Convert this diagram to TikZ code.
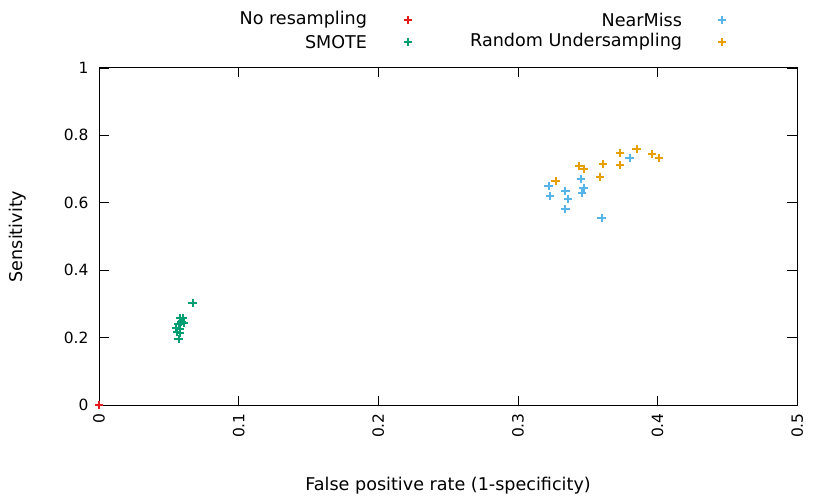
\documentclass[tikz,border=0pt]{standalone}
\usepackage{fontspec}
\setmainfont{DejaVu Sans}
\definecolor{nores}{HTML}{E41A1C}
\definecolor{smote}{HTML}{009E73}
\definecolor{nearmiss}{HTML}{56B4E9}
\definecolor{randu}{HTML}{E69F00}
\begin{document}
\begin{tikzpicture}[x=0.025cm,y=-0.025cm,font=\fontsize{12.5}{14}\selectfont]
		\tikzstyle{pt}=[line width=1.4pt]
		\tikzstyle{tick}=[font=\fontsize{11}{13}\selectfont]
		\useasboundingbox (0,0) rectangle (830,498);

		% axes frame, data mapped to pixels
		\begin{scope}[shift={(99,405)},x=34.9cm,y=8.425cm]
			\newcommand{\mk}[3]{\draw[pt,#1] (#2-0.003,#3) -- (#2+0.003,#3) (#2,#3-0.0125) -- (#2,#3+0.0125);}
			\node[coordinate] (orig) at (0,0) {};
			\node[coordinate] (topright) at (0.5,1) {};
			\draw[line width=0.6pt] (orig) rectangle (topright);
			\foreach \x in {0,0.1,0.2,0.3,0.4,0.5} {
				\draw (\x,0) -- (\x,0.027) (\x,1) -- (\x,0.973);
				\node[tick,rotate=90,anchor=east] at (\x,-0.01) {\x};
			}
			\foreach \y in {0,0.2,0.4,0.6,0.8,1} {
				\draw (0,\y) -- (0.007,\y) (0.5,\y) -- (0.493,\y);
				\node[tick,anchor=east] at (-0.004,\y) {\y};
			}
			\node[rotate=90] (ylab) at (-0.058,0.5) {Sensitivity};
			\node (xlab) at (0.25,-0.24) {False positive rate (1-specificity)};

			% data
			\mk{nores}{0}{0}
			\foreach \a/\b in {0.058/0.258,0.060/0.258,0.057/0.240,0.059/0.246,0.055/0.228,0.058/0.226,0.061/0.243,0.056/0.217,0.058/0.214,0.057/0.196,0.067/0.303}
				{\mk{smote}{\a}{\b}}
			\foreach \a/\b in {0.322/0.650,0.323/0.620,0.334/0.635,0.336/0.611,0.334/0.582,0.345/0.671,0.347/0.644,0.346/0.629,0.360/0.555,0.380/0.733}
				{\mk{nearmiss}{\a}{\b}}
			\foreach \a/\b in {0.327/0.665,0.344/0.709,0.347/0.700,0.361/0.715,0.359/0.677,0.373/0.748,0.373/0.712,0.385/0.760,0.396/0.745,0.401/0.733}
				{\mk{randu}{\a}{\b}}
		\end{scope}

		% legend
		\node[anchor=east] (l1) at (372,20) {No resampling};
		\node[anchor=east] (l2) at (372,42) {SMOTE};
		\node[anchor=east] (l3) at (687,20) {NearMiss};
		\node[anchor=east] (l4) at (687,42) {Random Undersampling};
		\foreach \c/\px/\py in {nores/408/20,smote/408/42,nearmiss/722/20,randu/722/42}
			\draw[pt,\c] (\px-4,\py) -- (\px+4,\py) (\px,\py-4) -- (\px,\py+4);
	\end{tikzpicture}
\end{document}
